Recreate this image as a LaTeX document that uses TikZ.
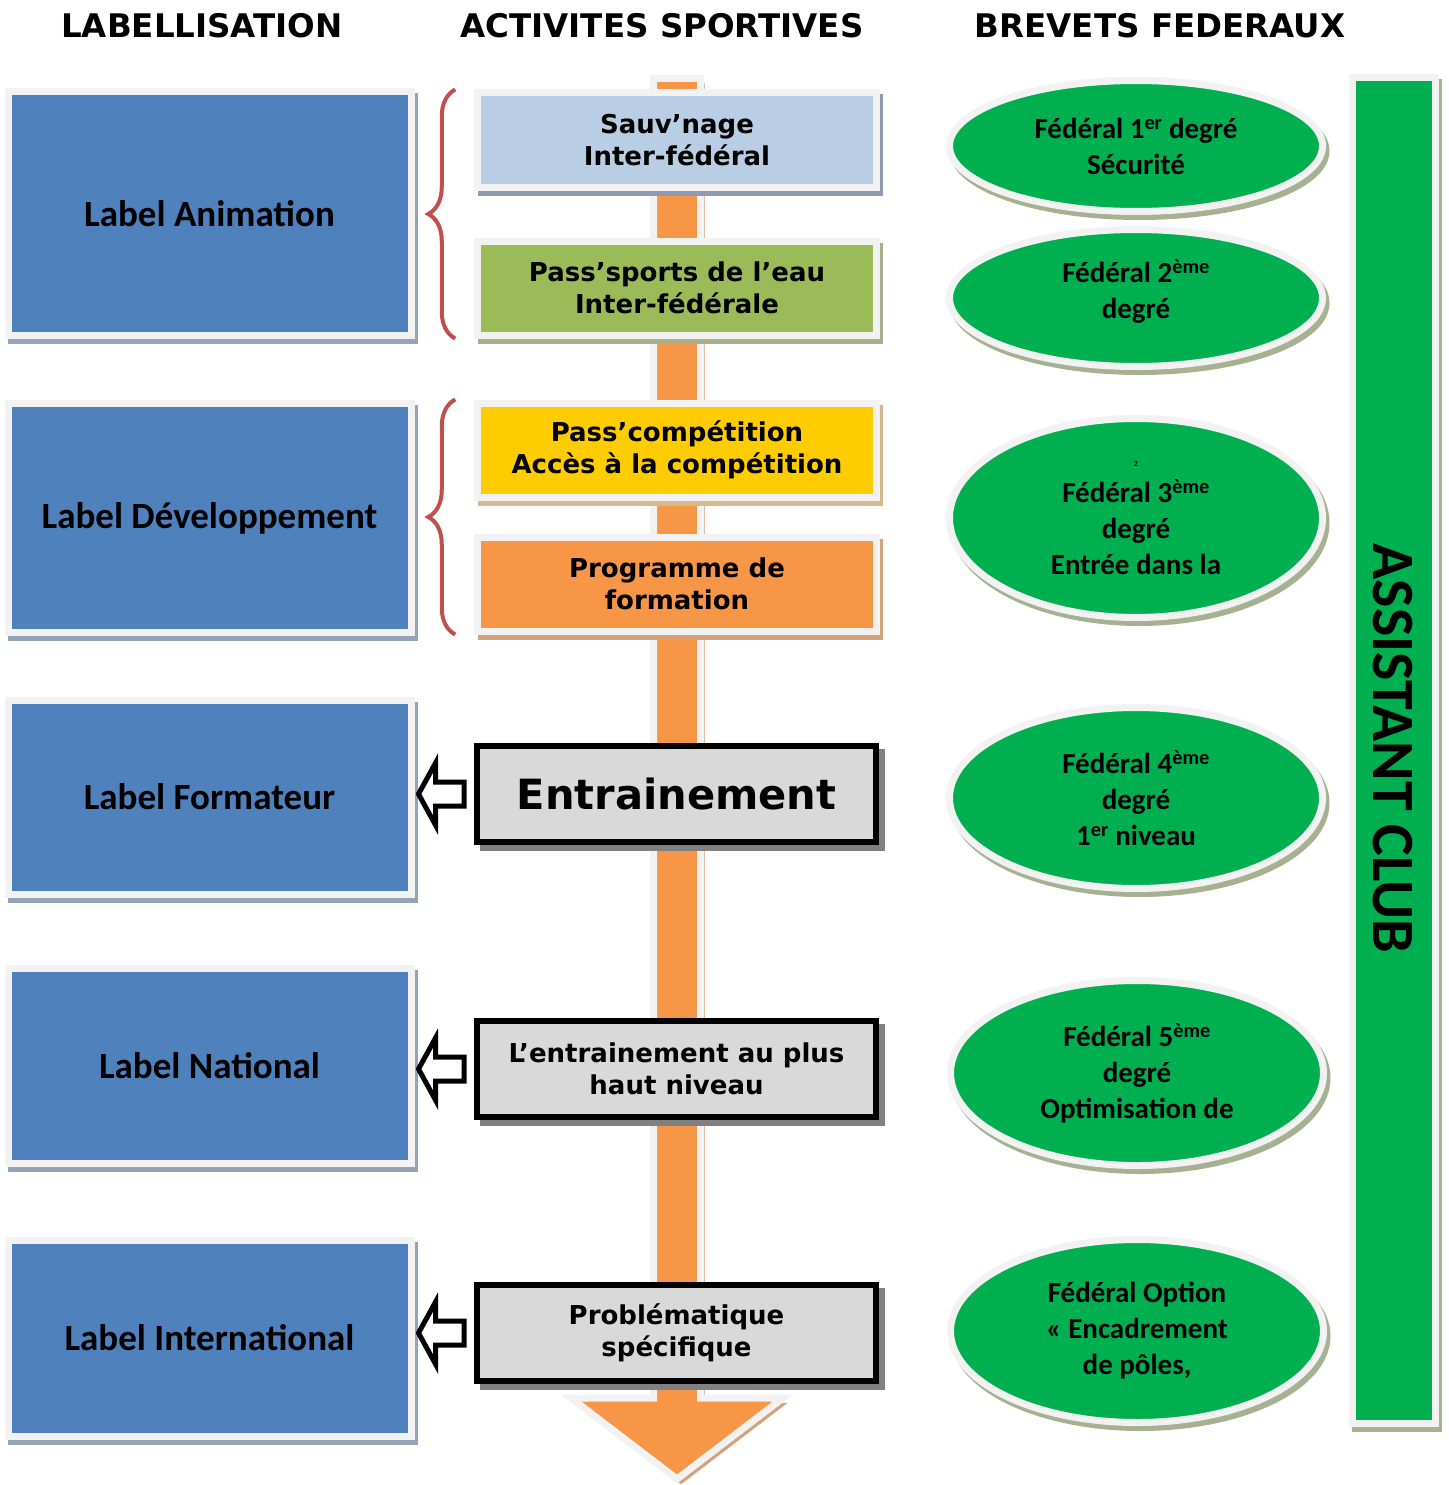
\documentclass[tikz,border=0pt]{standalone}
\usepackage{fontspec}
\setmainfont{Carlito}
\newfontfamily\vfont{DejaVu Sans}
\usetikzlibrary{calc,decorations.pathreplacing,shapes.geometric}
\definecolor{lightframe}{HTML}{F2F2F2}
\definecolor{labelblue}{HTML}{4F81BD}
\definecolor{blueshadow}{HTML}{94A3B8}
\definecolor{sauvblue}{HTML}{B9CDE5}
\definecolor{sauvshadow}{HTML}{8E9AAF}
\definecolor{passgreen}{HTML}{9BBB59}
\definecolor{passshadow}{HTML}{A5B18A}
\definecolor{compyellow}{HTML}{FFCC00}
\definecolor{compshadow}{HTML}{D6B88A}
\definecolor{progorange}{HTML}{F79646}
\definecolor{progshadow}{HTML}{D3A27C}
\definecolor{boxgrey}{HTML}{D9D9D9}
\definecolor{bracered}{HTML}{C0504D}
\definecolor{brevetgreen}{HTML}{00B050}
\definecolor{greenshadow}{HTML}{A6B191}
\begin{document}
\begin{tikzpicture}[x=1pt,y=-1pt,
    dropcol/.style={preaction={draw=#1, fill=#1, transform canvas={xshift=3.5pt,yshift=-5pt}}},
    labelbox/.style={draw=lightframe, line width=7pt, fill=labelblue, dropcol=blueshadow,
      minimum width=403pt, inner sep=0pt, font=\fontsize{37}{44}\selectfont\bfseries},
    activity/.style={draw=lightframe, line width=7pt, minimum width=398.5pt, minimum height=94pt,
      inner sep=0pt, align=center, font=\vfont\bfseries\fontsize{26}{32}\selectfont},
    trainbox/.style={draw=black, line width=6pt, fill=boxgrey, minimum width=399pt, minimum height=95.5pt,
      inner sep=0pt, align=center, font=\vfont\bfseries\fontsize{26}{32}\selectfont,
      preaction={draw=gray, fill=gray, transform canvas={xshift=6pt,yshift=-6pt}}},
    brevet/.style={ellipse, draw=lightframe, line width=7pt, fill=brevetgreen, dropcol=greenshadow,
      minimum width=373pt, inner sep=0pt, align=center, font=\fontsize{29}{36}\selectfont\bfseries},
    head/.style={font=\vfont\bfseries\fontsize{32.5}{36}\selectfont},
    brace/.style={decorate, decoration={brace, amplitude=27pt}, draw=bracered, line width=4pt},
    hollowarrow/.style={draw=black, fill=white, line width=5pt, line join=miter}]
  \useasboundingbox (0,0) rectangle (1448,1485);

  \draw[line width=7pt, draw=lightframe, fill=progorange, line join=miter,
    preaction={draw=progshadow, fill=progshadow, transform canvas={xshift=4pt,yshift=-5pt}}]
    (653.5,78.5) -- (700.5,78.5) -- (700.5,1398) -- (783,1398) -- (677,1479) -- (571,1398) -- (653.5,1398) -- cycle;

  \node[head] (hlab) at (202,26) {LABELLISATION};
  \node[head] (hact) at (662,26) {ACTIVITES SPORTIVES};
  \node[head] (hbrev) at (1160,26) {BREVETS FEDERAUX};

  \node[labelbox, minimum height=243pt] (lanim) at (209.5,213.5) {Label Animation};
  \node[labelbox, minimum height=228.5pt] (ldev) at (209.5,518) {Label Développement};
  \node[labelbox, minimum height=194pt] (lform) at (209.5,797) {Label Formateur};
  \node[labelbox, minimum height=195pt] (lnat) at (209.5,1066) {Label National};
  \node[labelbox, minimum height=196pt] (lint) at (209.5,1338) {Label International};

  \node[activity, fill=sauvblue, dropcol=sauvshadow] (sauv) at (677,140) {Sauv’nage\\Inter-fédéral};
  \node[activity, fill=passgreen, dropcol=passshadow] (pass) at (677,288) {Pass’sports de l’eau\\Inter-fédérale};
  \node[activity, fill=compyellow, dropcol=compshadow] (comp) at (677,450) {Pass’compétition\\Accès à la compétition};
  \node[activity, fill=progorange, dropcol=progshadow] (prog) at (677,584) {Programme de\\formation};
  \node[trainbox, font=\vfont\bfseries\fontsize{41.6}{48}\selectfont] (ent) at (676.5,794) {Entrainement};
  \node[trainbox] (ehn) at (676.5,1069) {L’entrainement au plus\\haut niveau};
  \node[trainbox] (prob) at (676.5,1333) {Problématique\\spécifique};

  \draw[brace] ($(pass.south west)+(-19,0)$) -- ($(sauv.north west)+(-19,0)$);
  \draw[brace] ($(prog.south west)+(-19,0)$) -- ($(comp.north west)+(-19,0)$);

  \foreach \a/\b in {ent/lform, ehn/lnat, prob/lint}{
    \coordinate (tip) at ($(\b.east |- \a.west)+(4,0)$);
    \draw[hollowarrow] ($(\a.west)+(-10,-12)$) -- ($(tip)+(17,-12)$) -- ($(tip)+(17,-31)$) -- (tip)
      -- ($(tip)+(17,31)$) -- ($(tip)+(17,12)$) -- ($(\a.west)+(-10,12)$) -- cycle;
  }

  \node[brevet, minimum height=131pt] (f1) at (1136,146) {Fédéral 1\textsuperscript{er} degré\\Sécurité};
  \node[brevet, minimum height=137pt] (f2) at (1136,298) {};
  \node[font=\fontsize{29}{36}\selectfont\bfseries, align=center] (f2text) at (1136,291) {Fédéral 2\textsuperscript{ème}\\degré};
  \node[brevet, minimum height=199pt] (f3) at (1136,518) {{\fontsize{8}{8}\selectfont 2}\\Fédéral 3\textsuperscript{ème}\\degré\\Entrée dans la};
  \node[brevet, minimum height=181pt] (f4) at (1136,798) {Fédéral 4\textsuperscript{ème}\\degré\\1\textsuperscript{er} niveau};
  \node[brevet, minimum height=185pt] (f5) at (1137,1073) {Fédéral 5\textsuperscript{ème}\\degré\\Optimisation de};
  \node[brevet, minimum height=183pt] (f6) at (1137,1331) {Fédéral Option\\« Encadrement\\de pôles,};

  \node[draw=lightframe, line width=7pt, fill=brevetgreen, dropcol=greenshadow,
    minimum width=83pt, minimum height=1345.5pt] (club) at (1393.5,750.75) {};
  \node[rotate=-90, font=\fontsize{60}{66}\selectfont\bfseries] (clubtext) at (1393,748) {ASSISTANT CLUB};
\end{tikzpicture}
\end{document}
